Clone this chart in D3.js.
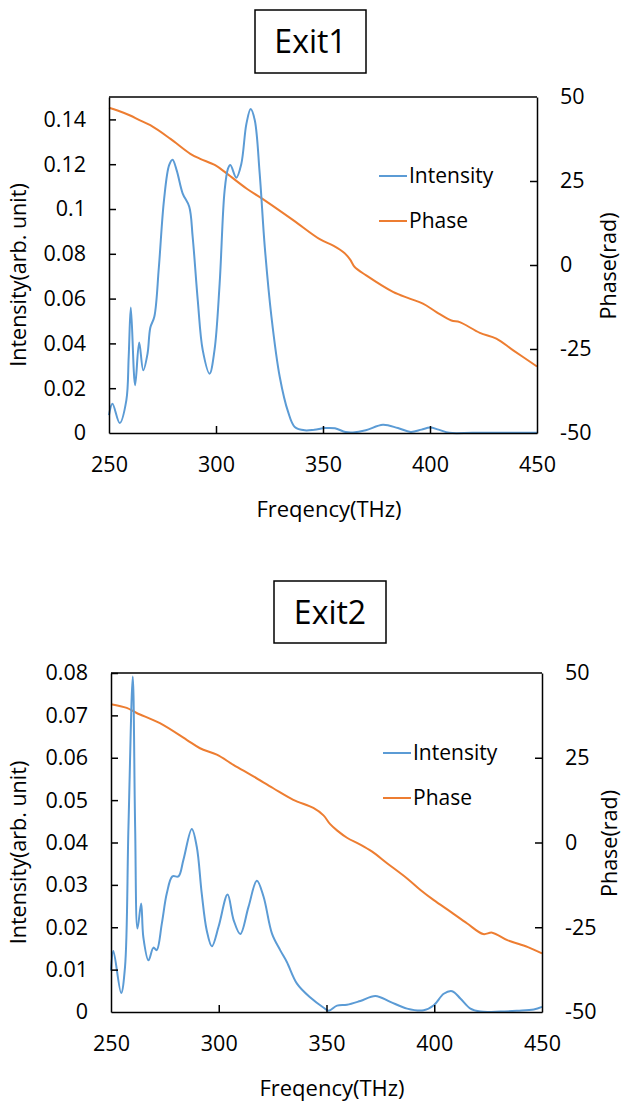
<!DOCTYPE html>
<html>
<head>
<meta charset="utf-8">
<script src="https://cdn.jsdelivr.net/npm/d3@7"></script>
<style>
  html, body { margin: 0; padding: 0; background: #fff; }
  svg { display: block; }
  text { font-family: "Open Sans", "Noto Sans", sans-serif; fill: #000; }
</style>
</head>
<body>
<svg id="chart" width="622" height="1104"></svg>
<script>
// ---------- DATA ----------
const titles = ["Exit1", "Exit2"];
const xTicks = [250, 300, 350, 400, 450];
const phaseTicks = [-50, -25, 0, 25, 50];
const intensityTicks1 = [0, 0.02, 0.04, 0.06, 0.08, 0.1, 0.12, 0.14];
const intensityTicks2 = [0, 0.01, 0.02, 0.03, 0.04, 0.05, 0.06, 0.07, 0.08];
const legendLabels = ["Intensity", "Phase"];
const xLabel = "Freqency(THz)";
const yLeftLabel = "Intensity(arb. unit)";
const yRightLabel = "Phase(rad)";

// Exit1 intensity
const freqI1 = [250, 251.6, 255, 258.1, 259.2, 260.2, 262.2, 264.1, 266, 268, 269.3, 271.2, 273.3, 275.7, 278.1, 279.7, 281.7, 284.4, 287.5, 289.1, 291.5, 293.8, 297, 299.3, 301.7, 304, 305.6, 306.7, 309.5, 311.8, 314.2, 316.2, 318.1, 320.4, 322.8, 325.9, 329.8, 333.7, 336.8, 341.5, 346, 351, 355.6, 360.5, 364, 370, 378, 385, 391, 396, 400, 404, 409, 420, 435, 450];
const intensity1 = [0.008, 0.0131, 0.0045, 0.0146, 0.034, 0.056, 0.0213, 0.0404, 0.028, 0.0354, 0.047, 0.052, 0.074, 0.104, 0.1196, 0.122, 0.117, 0.107, 0.101, 0.0875, 0.059, 0.037, 0.0265, 0.037, 0.0667, 0.108, 0.118, 0.1196, 0.114, 0.120, 0.138, 0.1446, 0.1397, 0.116, 0.083, 0.052, 0.025, 0.0094, 0.0027, 0.0012, 0.0015, 0.0022, 0.0021, 0.0004, 0.0002, 0.0012, 0.0037, 0.0022, 0.0005, 0.0015, 0.0024, 0.0015, 0.0001, 0.0001, 0.0001, 0.0001];
// Exit1 phase
const freqP1 = [250, 254, 259.9, 264, 269.3, 278.6, 288, 292.6, 299.6, 305.1, 314.4, 323.8, 336.2, 348.7, 355, 360, 362.7, 364.8, 370.2, 382.7, 390.5, 396.7, 403, 410, 413.9, 423.3, 431, 438.9, 450];
const phase1 = [46.8, 46.0, 44.5, 43.2, 41.6, 37.6, 33.1, 31.6, 29.7, 27.2, 22.7, 18.8, 13.3, 7.6, 5.7, 3.6, 1.6, -0.6, -3.1, -8.0, -10.0, -11.5, -14.0, -16.5, -17.0, -20.2, -21.9, -25.4, -30.2];

// Exit2 intensity
const freqI2 = [250, 251.1, 254.7, 256.5, 258.1, 260.1, 261.2, 262.3, 264, 265, 267.4, 269.7, 271.2, 273.6, 275.9, 278.5, 281.3, 283.6, 287.5, 289.8, 292.1, 294.4, 296.8, 299.9, 304.1, 306.9, 310, 313.8, 317.7, 320.8, 324.7, 328.5, 331.6, 336.3, 342.5, 348.7, 351, 354.9, 359.5, 365.7, 372.7, 379.6, 387.4, 395.1, 399.8, 404.4, 408.3, 412.1, 416.8, 421.4, 430.7, 438.5, 446.2, 450];
const intensity2 = [0.0098, 0.0144, 0.0045, 0.0106, 0.0437, 0.0792, 0.0437, 0.0197, 0.0256, 0.0177, 0.0122, 0.0152, 0.0146, 0.0209, 0.028, 0.032, 0.032, 0.0359, 0.0432, 0.039, 0.028, 0.0193, 0.0155, 0.0201, 0.0277, 0.0217, 0.0184, 0.0248, 0.031, 0.0272, 0.0185, 0.0146, 0.0118, 0.0067, 0.0034, 0.0010, 0.0003, 0.0015, 0.0017, 0.0026, 0.0038, 0.0024, 0.0008, 0.0004, 0.0016, 0.0043, 0.0049, 0.0032, 0.0008, 0.0001, 0.0001, 0.0003, 0.0006, 0.0012];
// Exit2 phase
const freqP2 = [250, 257.3, 261.9, 272.7, 285.1, 291.3, 299.1, 306.8, 316.1, 325.3, 334.6, 343.9, 348.6, 351.7, 355, 359.5, 365.7, 371.2, 378.1, 387.4, 393.6, 399.8, 407.5, 415.3, 422.7, 426.9, 433.9, 443.2, 450];
const phase2 = [40.8, 39.7, 38.2, 35.2, 30.3, 27.8, 25.9, 22.9, 19.5, 16.0, 12.6, 10.2, 8.0, 5.4, 3.5, 1.4, -0.6, -2.7, -6.1, -10.6, -14.0, -17.0, -20.4, -23.9, -27.0, -26.6, -28.8, -30.8, -32.7];

// ---------- DRAW ----------
const blue = "#5B9BD5";
const orange = "#ED7D31";
const svg = d3.select("#chart");

function drawChart(cfg) {
  const g = svg.append("g");
  const x = d3.scaleLinear().domain([250, 450]).range([cfg.left, cfg.right]);
  const yL = d3.scaleLinear().domain(cfg.yDomain).range([cfg.bottom, cfg.top]);
  const yR = d3.scaleLinear().domain([-50, 50]).range([cfg.bottom, cfg.top]);

  // title box
  const tb = g.append("g");
  tb.append("rect").attr("x", cfg.titleBox[0]).attr("y", cfg.titleBox[1])
    .attr("width", cfg.titleBox[2]).attr("height", cfg.titleBox[3])
    .attr("fill", "#fff").attr("stroke", "#000").attr("stroke-width", 1.5);
  tb.append("text").attr("x", cfg.titleBox[0] + cfg.titleBox[2] / 2)
    .attr("y", cfg.titleBaseline).attr("text-anchor", "middle")
    .style("font-size", "32px").text(cfg.title);

  // lines
  const lineI = d3.line().x((d, i) => x(cfg.fI[i])).y(d => yL(d)).curve(d3.curveCatmullRom.alpha(0.5));
  const lineP = d3.line().x((d, i) => x(cfg.fP[i])).y(d => yR(d)).curve(d3.curveCatmullRom.alpha(0.5));
  g.append("path").attr("d", lineP(cfg.phase)).attr("fill", "none")
    .attr("stroke", orange).attr("stroke-width", 2);
  g.append("path").attr("d", lineI(cfg.intensity)).attr("fill", "none")
    .attr("stroke", blue).attr("stroke-width", 2);

  // axes
  const axB = g.append("g").attr("transform", `translate(0,${cfg.bottom})`)
    .call(d3.axisBottom(x).tickValues(xTicks).tickSizeInner(-7).tickSizeOuter(0).tickPadding(24));
  const axL = g.append("g").attr("transform", `translate(${cfg.left},0)`)
    .call(d3.axisLeft(yL).tickValues(cfg.yTicks).tickSizeInner(-7).tickSizeOuter(0).tickPadding(23)
      .tickFormat(d => d === 0 ? "0" : String(+d.toFixed(2))));
  const axR = g.append("g").attr("transform", `translate(${cfg.right},0)`)
    .call(d3.axisRight(yR).tickValues(phaseTicks).tickSizeInner(-7).tickSizeOuter(0).tickPadding(23)
      .tickFormat(d => String(d)));
  g.append("line").attr("x1", cfg.left).attr("x2", cfg.right).attr("y1", cfg.top).attr("y2", cfg.top)
    .attr("stroke", "#000").attr("stroke-width", 1.5);
  [axB, axL, axR].forEach(a => {
    a.select(".domain").attr("stroke", "#000").attr("stroke-width", 1.5);
    a.selectAll(".tick line").attr("stroke", "#000").attr("stroke-width", 1.5);
    a.selectAll(".tick text").style("font-size", "21.5px").attr("font-family", null).attr("fill", "#000");
  });
  // hide ticks at ends (frame already drawn)
  axL.selectAll(".tick").filter(d => d === 0).select("line").remove();
  axR.selectAll(".tick").filter(d => d === -50 || d === 50).select("line").remove();
  axB.selectAll(".tick").filter(d => d === 250 || d === 450).select("line").remove();

  // axis titles
  g.append("text").attr("x", cfg.xLabelX).attr("y", cfg.bottom + 84)
    .attr("text-anchor", "middle").style("font-size", "22px").text(xLabel);
  g.append("text").attr("transform", `translate(26,${(cfg.top + cfg.bottom) / 2 + 10}) rotate(-90)`)
    .attr("text-anchor", "middle").style("font-size", "21.5px").text(yLeftLabel);
  g.append("text").attr("transform", `translate(${cfg.rightTitleX},${(cfg.top + cfg.bottom) / 2 + 1}) rotate(-90)`)
    .attr("text-anchor", "middle").style("font-size", "21.5px").text(yRightLabel);

  // legend
  const colors = [blue, orange];
  legendLabels.forEach((lab, i) => {
    const ly = cfg.legendY[i];
    g.append("line").attr("x1", cfg.legendX).attr("x2", cfg.legendX + 28)
      .attr("y1", ly).attr("y2", ly).attr("stroke", colors[i]).attr("stroke-width", 2);
    g.append("text").attr("x", cfg.legendX + 30).attr("y", ly).attr("dy", "0.35em")
      .style("font-size", "21px").text(lab);
  });
}

drawChart({
  title: titles[0], titleBox: [255, 10, 111, 63], titleBaseline: 53,
  left: 109, right: 537, top: 97, bottom: 433,
  yDomain: [0, 0.15], yTicks: intensityTicks1,
  fI: freqI1, intensity: intensity1, fP: freqP1, phase: phase1,
  xLabelX: 329, legendX: 379, legendY: [176, 221], rightTitleX: 616
});
drawChart({
  title: titles[1], titleBox: [274, 581, 112, 62], titleBaseline: 624,
  left: 111, right: 542, top: 673, bottom: 1012,
  yDomain: [0, 0.08], yTicks: intensityTicks2,
  fI: freqI2, intensity: intensity2, fP: freqP2, phase: phase2,
  xLabelX: 332, legendX: 383, legendY: [753, 798], rightTitleX: 617
});
</script>
</body>
</html>
